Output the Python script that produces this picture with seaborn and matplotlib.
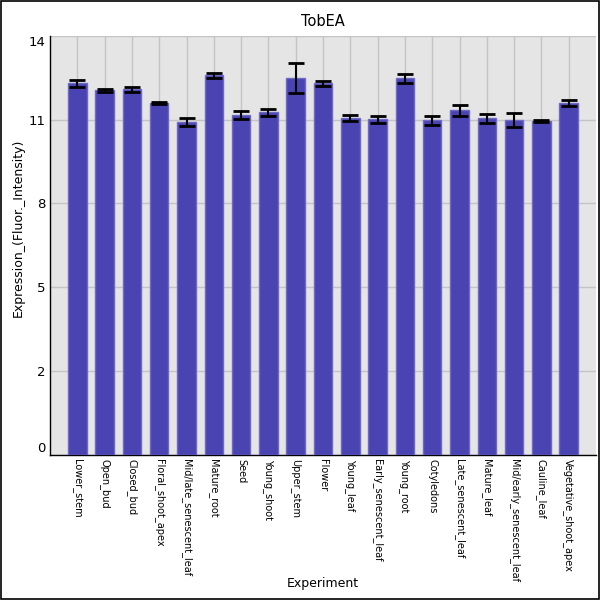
import matplotlib
matplotlib.use("Agg")
import matplotlib.pyplot as plt
import seaborn as sns
import pandas as pd
import numpy as np
from matplotlib.patches import Rectangle

categories = ["Lower_stem", "Open_bud", "Closed_bud", "Floral_shoot_apex",
              "Mid/late_senescent_leaf", "Mature_root", "Seed", "Young_shoot",
              "Upper_stem", "Flower", "Young_leaf", "Early_senescent_leaf",
              "Young_root", "Cotyledons", "Late_senescent_leaf", "Mature_leaf",
              "Mid/early_senescent_leaf", "Cauline_leaf", "Vegetative_shoot_apex"]
values = [12.42, 12.18, 12.22, 11.76, 11.12, 12.69, 11.36, 11.45, 12.60, 12.42,
          11.26, 11.22, 12.58, 11.18, 11.52, 11.25, 11.19, 11.15, 11.76]
errors = [0.11, 0.05, 0.08, 0.03, 0.14, 0.08, 0.14, 0.11, 0.50, 0.09,
          0.105, 0.117, 0.145, 0.15, 0.18, 0.145, 0.22, 0.027, 0.10]
yticks = [0, 2.8, 5.6, 8.4, 11.2, 14]
ytick_labels = ["0", "2", "5", "8", "11", "14"]

sns.set_style("whitegrid")
plt.rcParams['font.family'] = ['DejaVu Sans']
plt.rcParams['text.color'] = 'black'
plt.rcParams['axes.labelcolor'] = 'black'
plt.rcParams['xtick.color'] = 'black'
plt.rcParams['ytick.color'] = 'black'

df = pd.DataFrame({"Experiment": categories, "Expression": values})

fig = plt.figure(figsize=(6, 6), dpi=100)
ax = fig.add_axes([50/600, 1-454.5/600, 546/600, 418.5/600])
ax.set_facecolor("#e5e5e5")

sns.barplot(data=df, x="Experiment", y="Expression", color="#4a44b2",
            saturation=1, width=0.68, errorbar=None, ax=ax,
            edgecolor="#6e69c6", linewidth=1, zorder=3)
ax.errorbar(np.arange(len(categories)), values, yerr=errors, fmt="none",
            ecolor="black", elinewidth=1.5, capsize=5.7, capthick=2, zorder=4)

ax.set_xlim(-1, len(categories))
ax.set_ylim(0, 14)
ax.set_yticks(yticks)
ax.set_yticklabels(ytick_labels, fontsize=9.5, color="black")
tl = ax.get_yticklabels()
tl[0].set_va("bottom")
tl[-1].set_va("top")
ax.set_xticks(np.arange(len(categories)))
ax.set_xticklabels(categories, rotation=270, fontsize=7, ha="center", va="top",
                   color="black")
ax.tick_params(axis="both", length=0, pad=3)

ax.grid(True, color="#c4c4c4", linewidth=1)
ax.set_axisbelow(True)
for s in ["top", "right"]:
    ax.spines[s].set_visible(False)
for s in ["left", "bottom"]:
    ax.spines[s].set_visible(True)
    ax.spines[s].set_color("black")
    ax.spines[s].set_linewidth(1)

ax.set_title("TobEA", fontsize=10.5, pad=7, color="black")
ax.set_xlabel("Experiment", fontsize=9, color="black")
ax.set_ylabel("Expression_(Fluor._Intensity)", fontsize=9, color="black")
ax.xaxis.set_label_coords(0.5, (454.5-584)/418.5)
ax.xaxis.label.set_va("center")
ax.yaxis.set_label_coords((18-50)/546, (454.5-227.5)/418.5)
ax.yaxis.label.set_va("center")

fig.patches.append(Rectangle((0.001, 0.001), 0.997, 0.998, transform=fig.transFigure,
                             fill=False, edgecolor="black", linewidth=1.2))

fig.savefig("out.png", dpi=100)
